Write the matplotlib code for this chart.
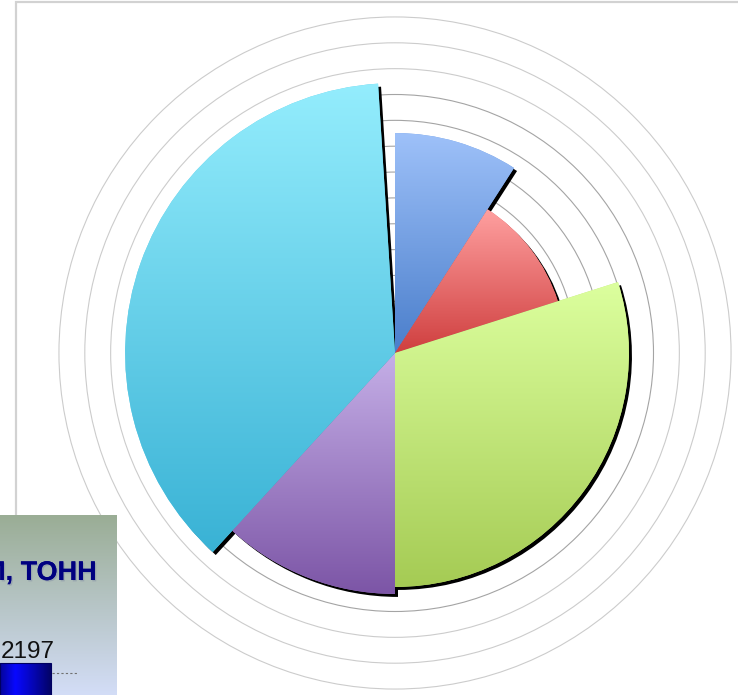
import numpy as np
import matplotlib
matplotlib.use("Agg")
import matplotlib.pyplot as plt
from matplotlib.patches import Wedge, Circle, Rectangle
from matplotlib.colors import to_rgb
from matplotlib.transforms import ScaledTranslation
import matplotlib.patheffects as pe

# sectors, clockwise from 12 o'clock
sector_names = ["blue", "red", "green", "purple", "cyan"]
shares = [9.1, 11.0, 29.9, 11.8, 37.2]          # % of full circle
radii = [8.51, 6.61, 9.05, 9.32, 10.44]          # in grid-ring units
gap_share = 1.0                                   # empty sliver left after the last sector
top_colors = ["#9ec1f9", "#ffa0a0", "#dcff9e", "#c5afe7", "#94edfd"]
bottom_colors = ["#4a7ecb", "#cf3f3f", "#a5cb54", "#7c55a6", "#39b2d5"]
ring_levels = list(range(1, 14))

# fragment of the neighbouring slide in the lower-left corner
overlay_title = "И, ТОНН"
overlay_value = "2197"

W, H = 738, 695
cx, cy = 395, 353      # chart centre in pixels (from top)
unit = 25.85           # pixels per ring


def vgrad(c_top, c_bot, n=256):
    t = np.linspace(0, 1, n)[:, None]
    a, b = np.array(to_rgb(c_top)), np.array(to_rgb(c_bot))
    return (a * (1 - t) + b * t)[:, None, :]


def main():
    fig = plt.figure(figsize=(W / 100, H / 100), dpi=100)
    fig.patch.set_facecolor("white")

    ax = fig.add_axes([0, 0, 1, 1])
    ax.set_xlim(-cx / unit, (W - cx) / unit)
    ax.set_ylim(-(H - cy) / unit, cy / unit)
    ax.set_aspect("auto")
    ax.axis("off")

    # outer frame of the chart area (partly off the picture), under everything
    fig.add_artist(Rectangle((16 / W, -0.2), 1.5, 1.2 - 2 / H, transform=fig.transFigure,
                             fill=False, edgecolor="#d2d2d2", linewidth=1.6, zorder=-1))

    for r in ring_levels:
        col = "#a4a4a4" if r <= 10 else "#cccccc"
        ax.add_patch(Circle((0, 0), r, fill=False, edgecolor=col, linewidth=0.8, zorder=1))

    total = sum(shares) + gap_share
    starts = np.cumsum([0] + shares[:-1]) / total * 360
    spans = np.array(shares) / total * 360

    shadow_tr = ax.transData + ScaledTranslation(3 / 100, -3 / 100, fig.dpi_scale_trans)
    wedges = []
    for a0, span, r in zip(starts, spans, radii):
        t1, t2 = 90 - (a0 + span), 90 - a0
        ax.add_patch(Wedge((0, 0), r, t1, t2, facecolor="black", edgecolor="none",
                           transform=shadow_tr, zorder=2))
        wedges.append((t1, t2, r))

    for (t1, t2, r), ctop, cbot in zip(wedges, top_colors, bottom_colors):
        mid = (np.array(to_rgb(ctop)) + np.array(to_rgb(cbot))) / 2
        w = Wedge((0, 0), r, t1, t2, facecolor=mid, edgecolor="none", zorder=3)
        ax.add_patch(w)
        ang = np.radians(np.linspace(t1, t2, 200))
        xs = np.concatenate([[0], r * np.cos(ang)])
        ys = np.concatenate([[0], r * np.sin(ang)])
        im = ax.imshow(vgrad(ctop, cbot), extent=(xs.min(), xs.max(), ys.min(), ys.max()),
                       origin="upper", aspect="auto", interpolation="bilinear", zorder=3.5)
        im.set_clip_path(w)

    # overlay box, bottom-left
    bx = fig.add_axes([0, 0, 117 / W, 180 / H])
    bx.set_xlim(0, 117)
    bx.set_ylim(180, 0)
    bx.axis("off")
    bx.imshow(vgrad("#9aad95", "#d3ddf7"), extent=(0, 117, 180, 0), aspect="auto",
              interpolation="bilinear", zorder=0)
    bx.text(97, 65, overlay_title, ha="right", va="baseline", fontsize=19.5,
            fontweight="bold", family=["Liberation Sans", "DejaVu Sans"], color="#000080",
            path_effects=[pe.withSimplePatchShadow(offset=(1, -1), shadow_rgbFace="#8a96a8", alpha=0.6),
                          pe.Normal()])
    bx.text(54.5, 143, overlay_value, ha="right", va="baseline", fontsize=17.5,
            family=["Liberation Sans", "DejaVu Sans"], color="#111111")
    xs_bar = np.linspace(0, 1, 128)
    lvl = np.interp(xs_bar, [0, 0.3, 0.55, 1.0], [0.6, 1.0, 0.8, 0.4])
    bar = np.repeat((lvl[:, None] * np.array([0.03, 0.03, 1.0]))[None, :, :], 4, axis=0)
    bx.imshow(bar, extent=(0, 51, 180, 148), aspect="auto", interpolation="bilinear", zorder=1)
    bx.add_patch(Rectangle((0, 148), 51, 33, fill=False, edgecolor="#000060", linewidth=0.8, zorder=2))
    bx.plot([52, 78], [158, 158], color="#707070", linewidth=0.8, linestyle=(0, (2, 2)), zorder=2)

    fig.savefig("out.png", dpi=100, facecolor="white")


if __name__ == "__main__":
    main()
